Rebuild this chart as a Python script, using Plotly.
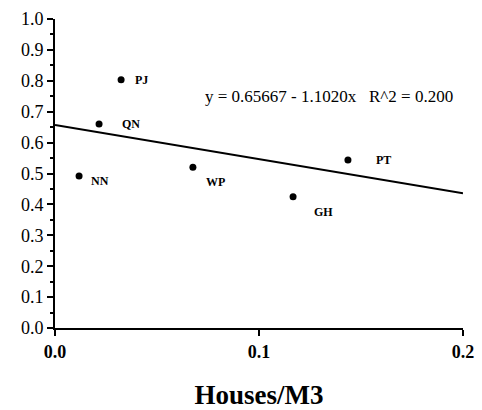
import plotly.graph_objects as go

sites = ["PJ", "QN", "NN", "WP", "GH", "PT"]
houses_m3 = [0.0324, 0.0216, 0.0118, 0.0676, 0.1167, 0.1436]
values = [0.803, 0.660, 0.492, 0.520, 0.425, 0.544]
label_dx = [15, 24, 13, 14, 22, 29]
label_dy = [0, 0, -5, -15, -15, 0]

intercept = 0.65667
slope = -1.1020
r2 = 0.200
x_range = [0.0, 0.2]
x_ticks = [0.0, 0.1, 0.2]
y_ticks = [round(i * 0.1, 1) for i in range(11)]

serif = "Liberation Serif"

fig = go.Figure()
fig.add_trace(go.Scatter(
    x=x_range, y=[intercept + slope * v for v in x_range],
    mode="lines", line=dict(color="black", width=2), hoverinfo="skip",
))
fig.add_trace(go.Scatter(
    x=houses_m3, y=values, mode="markers",
    marker=dict(color="black", size=7),
))

for s, xv, yv, dx, dy in zip(sites, houses_m3, values, label_dx, label_dy):
    fig.add_annotation(x=xv, y=yv, text=s, showarrow=False, xanchor="left",
                       xshift=dx - 3, yshift=dy,
                       font=dict(family=serif, size=12, color="black", weight="bold"))

fig.add_annotation(x=0.1345, y=0.75, xref="x", yref="y", showarrow=False,
                   text=f"y = {intercept:.5f} - {abs(slope):.4f}x   R^2 = {r2:.3f}",
                   font=dict(family=serif, size=17, color="black"))

fig.update_layout(
    width=482, height=410,
    margin=dict(l=55, r=19, t=19, b=82),
    plot_bgcolor="white", paper_bgcolor="white",
    showlegend=False,
)
fig.update_xaxes(
    range=x_range, tickvals=x_ticks, ticktext=[f"{v:.1f}" for v in x_ticks],
    automargin=False,
    showline=True, linecolor="black", linewidth=2, showgrid=False, zeroline=False,
    ticks="outside", ticklen=6, tickwidth=2, tickcolor="black",
    tickfont=dict(family=serif, size=18, color="black", weight="bold"),
    title=dict(text="Houses/M3", standoff=28,
               font=dict(family=serif, size=27, color="black", weight="bold")),
)
fig.update_yaxes(
    range=[0, 1.0], tickvals=y_ticks, ticktext=[f"{v:.1f}" for v in y_ticks],
    automargin=False,
    showline=True, linecolor="black", linewidth=2, showgrid=False, zeroline=False,
    ticks="outside", ticklen=6, tickwidth=2, tickcolor="black",
    minor=dict(ticks="outside", ticklen=3, tickwidth=1.5, tickcolor="black", dtick=0.05, showgrid=False),
    tickfont=dict(family=serif, size=18, color="black"),
)

fig.write_html("out.html")
